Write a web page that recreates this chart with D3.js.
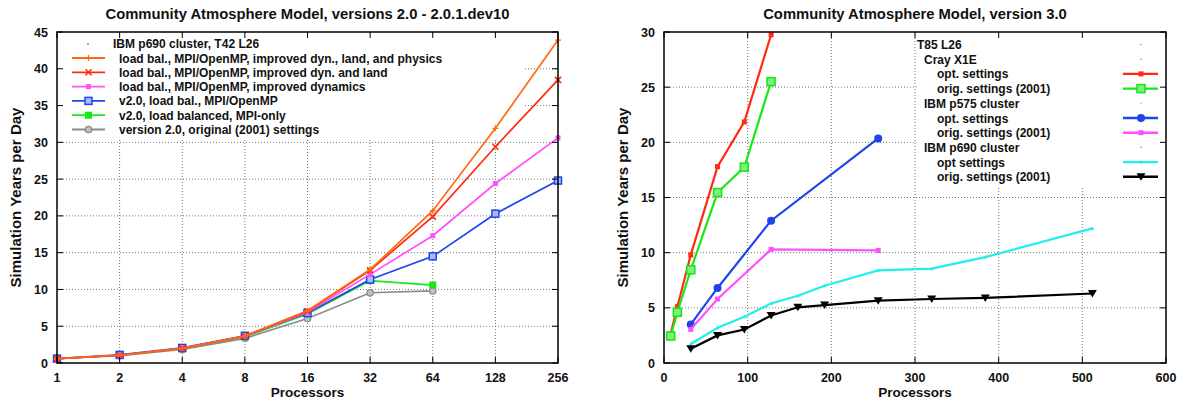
<!DOCTYPE html>
<html>
<head>
<meta charset="utf-8">
<script src="https://cdn.jsdelivr.net/npm/d3@7"></script>
<style>
  body { margin: 0; background: #fff; }
  text { font-family: "Liberation Sans", Arial, sans-serif; fill: #111; }
</style>
</head>
<body>
<div id="chart"></div>
<script>
// ---- data: left panel (CAM 2.0 - 2.0.1.dev10) ----
const leftProcs = [1, 2, 4, 8, 16, 32, 64, 128, 256];
const leftTicks = [1, 2, 4, 8, 16, 32, 64, 128, 256];
const leftYTicks = [0, 5, 10, 15, 20, 25, 30, 35, 40, 45];
const physicsVals  = [0.6, 1.05, 2.0, 3.65, 7.1, 12.7, 20.7, 31.9, 43.9];
const dynLandVals  = [0.6, 1.05, 2.0, 3.65, 7.05, 12.6, 19.9, 29.4, 38.5];
const dynamicsVals = [0.6, 1.05, 2.0, 3.6, 6.9, 12.05, 17.3, 24.4, 30.6];
const v20OmpVals   = [0.6, 1.1, 2.05, 3.7, 6.8, 11.35, 14.5, 20.3, 24.8];
const v20MpiVals   = [0.6, 1.05, 1.95, 3.55, 6.65, 11.2, 10.6];
const v20OrigVals  = [0.6, 1.0, 1.85, 3.35, 6.05, 9.55, 9.8];
const leftLabels = [
  "load bal., MPI/OpenMP, improved dyn., land, and physics",
  "load bal., MPI/OpenMP, improved dyn. and land",
  "load bal., MPI/OpenMP, improved dynamics",
  "v2.0, load bal., MPI/OpenMP",
  "v2.0, load balanced, MPI-only",
  "version 2.0, original (2001) settings"
];

// ---- data: right panel (CAM 3.0) ----
const rightXTicks = [0, 100, 200, 300, 400, 500, 600];
const rightYTicks = [0, 5, 10, 15, 20, 25, 30];
const crayProcs = [8, 16, 32, 64, 96, 128];
const crayOptVals  = [2.65, 5.1, 9.8, 17.8, 21.85, 29.75];
const crayOrigVals = [2.45, 4.6, 8.45, 15.45, 17.75, 25.5];
const p575Procs = [32, 64, 128, 256];
const p575OptVals  = [3.5, 6.8, 12.9, 20.35];
const p575OrigVals = [3.05, 5.8, 10.3, 10.2];
const p690Procs = [32, 64, 96, 128, 160, 192, 256, 320, 384, 512];
const p690OptVals  = [1.72, 3.2, 4.2, 5.4, 6.1, 7.0, 8.4, 8.55, 9.6, 12.2];
const p690OrigVals = [1.3, 2.5, 3.03, 4.3, 5.05, 5.25, 5.65, 5.8, 5.9, 6.3];
const rightLegend = [
  {label: "T85 L26", indent: 0, dot: "#ff6040"},
  {label: "Cray X1E", indent: 7, dot: "#20e020"},
  {label: "opt. settings", indent: 20, key: 0},
  {label: "orig. settings (2001)", indent: 20, key: 1},
  {label: "IBM p575 cluster", indent: 7, dot: "#20e0e0"},
  {label: "opt. settings", indent: 20, key: 2},
  {label: "orig. settings (2001)", indent: 20, key: 3},
  {label: "IBM p690 cluster", indent: 7, dot: "#ff8020"},
  {label: "opt settings", indent: 20, key: 4},
  {label: "orig. settings (2001)", indent: 20, key: 5}
];

const W = 1181, H = 402;
const svg = d3.select("#chart").append("svg")
  .attr("width", W)
  .attr("height", H);

// marker drawing
function marker(g, type, color) {
  switch (type) {
    case "plus":
      g.append("path").attr("d", "M-3,0H3M0,-3V3").attr("stroke", color).attr("stroke-width", 1.3);
      break;
    case "cross":
      g.append("path").attr("d", "M-3,-3L3,3M-3,3L3,-3").attr("stroke", color).attr("stroke-width", 1.6);
      break;
    case "smallsq":
      g.append("rect").attr("x", -2.5).attr("y", -2.5).attr("width", 5).attr("height", 5).attr("fill", color);
      break;
    case "opensq":
      g.append("rect").attr("x", -3.5).attr("y", -3.5).attr("width", 7).attr("height", 7)
        .attr("fill", "#aabbff").attr("stroke", color).attr("stroke-width", 1.5);
      break;
    case "fillsq":
      g.append("rect").attr("x", -3.5).attr("y", -3.5).attr("width", 7).attr("height", 7).attr("fill", color);
      break;
    case "greysq":
      g.append("rect").attr("x", -4).attr("y", -4).attr("width", 8).attr("height", 8)
        .attr("fill", "#7fef7f").attr("stroke", color).attr("stroke-width", 1.6);
      break;
    case "circle":
      g.append("circle").attr("r", 3.2).attr("fill", "#c0c0c0").attr("stroke", color).attr("stroke-width", 1.3);
      break;
    case "dot":
      g.append("circle").attr("r", 4).attr("fill", color);
      break;
    case "tri":
      g.append("path").attr("d", "M0,-2L2,1.5H-2Z").attr("fill", color);
      break;
    case "tridown":
      g.append("path").attr("d", "M-4.5,-3.5H4.5L0,4Z").attr("fill", color);
      break;
  }
}

function panel(opt) {
  const g = svg.append("g");
  const x = opt.x, y = opt.y;
  const [x0, x1] = x.range(), [y0, y1] = y.range();

  // grid
  g.selectAll(".gx").data(opt.xTicks.slice(1, -1)).join("line")
    .attr("x1", d => x(d)).attr("x2", d => x(d))
    .attr("y1", y0).attr("y2", y1)
    .attr("stroke", "#777").attr("stroke-width", 1).attr("stroke-dasharray", "1,2");
  g.selectAll(".gy").data(opt.yTicks.slice(1, -1)).join("line")
    .attr("x1", x0).attr("x2", x1)
    .attr("y1", d => y(d)).attr("y2", d => y(d))
    .attr("stroke", "#777").attr("stroke-width", 1).attr("stroke-dasharray", "1,2");

  // legend background hides grid
  g.append("rect")
    .attr("x", opt.legendBox[0]).attr("y", y1 + 1)
    .attr("width", opt.legendBox[1] - opt.legendBox[0])
    .attr("height", opt.legendBox[2] - y1)
    .attr("fill", "#fff");

  // series
  opt.series.forEach(s => {
    const pts = s.vals.map((v, i) => [s.xs[i], v]);
    g.append("path")
      .datum(pts)
      .attr("fill", "none")
      .attr("stroke", s.color)
      .attr("stroke-width", s.width || 1.8)
      .attr("d", d3.line().x(d => x(d[0])).y(d => y(d[1])));
    pts.forEach(p => {
      const m = g.append("g").attr("transform", `translate(${x(p[0])},${y(p[1])})`);
      marker(m, s.marker, s.color);
    });
  });

  // ticks (inward, mirrored)
  const tl = 6;
  opt.xTicks.forEach(t => {
    g.append("line").attr("x1", x(t)).attr("x2", x(t)).attr("y1", y0).attr("y2", y0 - tl).attr("stroke", "#000");
    g.append("line").attr("x1", x(t)).attr("x2", x(t)).attr("y1", y1).attr("y2", y1 + tl).attr("stroke", "#000");
    g.append("text").attr("x", x(t)).attr("y", y0 + 19)
      .attr("text-anchor", "middle").attr("font-size", 12.5).attr("font-weight", "bold").text(t);
  });
  opt.yTicks.forEach(t => {
    g.append("line").attr("x1", x0).attr("x2", x0 + tl).attr("y1", y(t)).attr("y2", y(t)).attr("stroke", "#000");
    g.append("line").attr("x1", x1).attr("x2", x1 - tl).attr("y1", y(t)).attr("y2", y(t)).attr("stroke", "#000");
    g.append("text").attr("x", x0 - 9).attr("y", y(t) + 4.5)
      .attr("text-anchor", "end").attr("font-size", 12.5).attr("font-weight", "bold").text(t);
  });

  // frame
  g.append("rect")
    .attr("x", x0).attr("y", y1)
    .attr("width", x1 - x0).attr("height", y0 - y1)
    .attr("fill", "none").attr("stroke", "#000").attr("stroke-width", 1.5);

  // titles
  const cx = (x0 + x1) / 2;
  g.append("text").attr("x", cx).attr("y", 18.5)
    .attr("text-anchor", "middle").attr("font-size", 14.8).attr("font-weight", "bold").text(opt.title);
  g.append("text").attr("x", cx).attr("y", 397)
    .attr("text-anchor", "middle").attr("font-size", 13.5).attr("font-weight", "bold").text("Processors");
  g.append("text")
    .attr("transform", `translate(${x0 - 36},${(y0 + y1) / 2}) rotate(-90)`)
    .attr("text-anchor", "middle").attr("font-size", 15).attr("font-weight", "bold")
    .text("Simulation Years per Day");
  return g;
}

// ---- left panel ----
const xL = d3.scaleLog().base(2).domain([1, 256]).range([57, 558]);
const yL = d3.scaleLinear().domain([0, 45]).range([363, 32]);
const leftColors = ["#ff6a10", "#ff2a10", "#ff50ff", "#1e44ee", "#18e818", "#8c8c8c"];
const leftMarkers = ["plus", "cross", "smallsq", "opensq", "fillsq", "circle"];
const leftVals = [physicsVals, dynLandVals, dynamicsVals, v20OmpVals, v20MpiVals, v20OrigVals];
const leftSeries = leftVals.map((v, i) => ({
  xs: leftProcs, vals: v, color: leftColors[i], marker: leftMarkers[i], width: 1.7
})).reverse();

const gl = panel({
  x: xL, y: yL, xTicks: leftTicks, yTicks: leftYTicks,
  title: "Community Atmosphere Model, versions 2.0 - 2.0.1.dev10",
  legendBox: [58, 525, 137],
  series: leftSeries
});

// left legend
gl.append("circle").attr("cx", 88).attr("cy", 44).attr("r", 0.8).attr("fill", "#333");
gl.append("text").attr("x", 113).attr("y", 48).attr("font-size", 12).attr("font-weight", "bold")
  .text("IBM p690 cluster, T42 L26");
leftLabels.forEach((lab, i) => {
  const ly = 58 + i * 14.3;
  gl.append("line").attr("x1", 72).attr("x2", 105).attr("y1", ly).attr("y2", ly)
    .attr("stroke", leftColors[i]).attr("stroke-width", 1.8);
  marker(gl.append("g").attr("transform", `translate(88.5,${ly})`), leftMarkers[i], leftColors[i]);
  gl.append("text").attr("x", 119).attr("y", ly + 4.5).attr("font-size", 12).attr("font-weight", "bold").text(lab);
});

// ---- right panel ----
const xR = d3.scaleLinear().domain([0, 600]).range([664, 1166]);
const yR = d3.scaleLinear().domain([0, 30]).range([363, 32]);
const rightColors = ["#ff2a10", "#18e818", "#1e44ee", "#ff50ff", "#22eeee", "#000000"];
const rightMarkers = ["smallsq", "greysq", "dot", "smallsq", "tri", "tridown"];
const rightSeries = [
  {xs: crayProcs, vals: crayOptVals},
  {xs: crayProcs, vals: crayOrigVals},
  {xs: p575Procs, vals: p575OptVals},
  {xs: p575Procs, vals: p575OrigVals},
  {xs: p690Procs, vals: p690OptVals},
  {xs: p690Procs, vals: p690OrigVals}
].map((s, i) => Object.assign(s, {color: rightColors[i], marker: rightMarkers[i], width: 2.2}));

const gr = panel({
  x: xR, y: yR, xTicks: rightXTicks, yTicks: rightYTicks,
  title: "Community Atmosphere Model, version 3.0",
  legendBox: [916.5, 1165, 185],
  series: rightSeries
});

rightLegend.forEach((row, i) => {
  const ly = 44.5 + i * 14.7;
  gr.append("text").attr("x", 917 + row.indent).attr("y", ly + 4.5).attr("font-size", 12)
    .attr("font-weight", "bold").text(row.label);
  if (row.dot) {
    gr.append("circle").attr("cx", 1141).attr("cy", ly).attr("r", 0.8).attr("fill", row.dot);
  } else {
    const c = rightColors[row.key];
    gr.append("line").attr("x1", 1123).attr("x2", 1158).attr("y1", ly).attr("y2", ly)
      .attr("stroke", c).attr("stroke-width", 2.4);
    marker(gr.append("g").attr("transform", `translate(1141,${ly})`), rightMarkers[row.key], c);
  }
});
</script>
</body>
</html>
